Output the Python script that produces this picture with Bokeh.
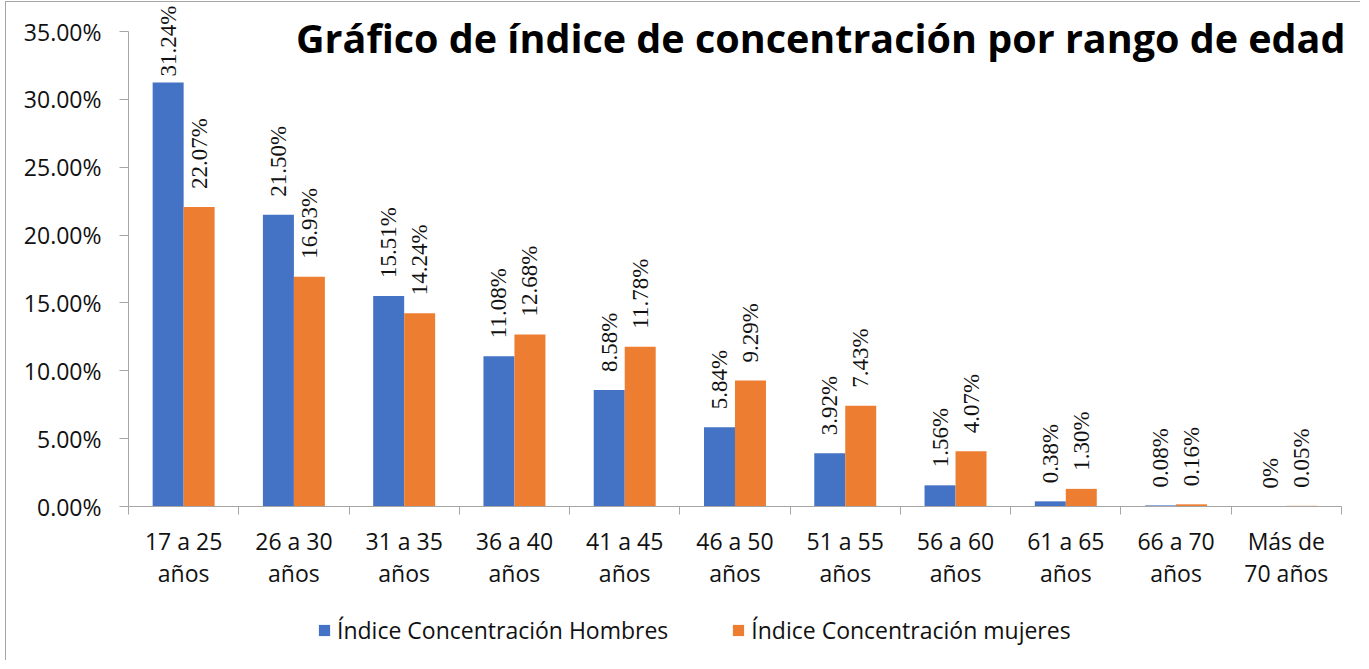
import math
from bokeh.plotting import figure
from bokeh.models import (ColumnDataSource, Range1d, FixedTicker, PrintfTickFormatter,
                          CustomJSTickFormatter, LabelSet, Label, Legend, LegendItem)
from bokeh.transform import dodge
from bokeh.embed import file_html
from bokeh.resources import INLINE

# ---- data ----
categories = ["17 a 25\naños", "26 a 30\naños", "31 a 35\naños", "36 a 40\naños",
              "41 a 45\naños", "46 a 50\naños", "51 a 55\naños", "56 a 60\naños",
              "61 a 65\naños", "66 a 70\naños", "Más de\n70 años"]
hombres = [31.24, 21.50, 15.51, 11.08, 8.58, 5.84, 3.92, 1.56, 0.38, 0.08, 0.0]
mujeres = [22.07, 16.93, 14.24, 12.68, 11.78, 9.29, 7.43, 4.07, 1.30, 0.16, 0.05]
y_ticks = [0, 5, 10, 15, 20, 25, 30, 35]
series_names = ["Índice Concentración Hombres", "Índice Concentración mujeres"]
title_text = "Gráfico de índice de concentración por rango de edad"

# ---- style / geometry ----
BLUE = "#4472C4"
ORANGE = "#ED7D31"
FONT = "Open Sans"
FS = "23px"
TXT = "#111111"
AXIS = "#a6a6a6"

n = len(categories)
Y_MAX = 35
W, H = 1355, 659
AXIS_X_PX = 122      # canvas x of the value axis
ZERO_Y_PX = 504      # canvas y of the 0% line
TOP_Y_PX = 29        # canvas y of the 35% line
CAT_PX = 110.27      # pixel width of one category
PX_PER_UNIT = (ZERO_Y_PX - TOP_Y_PX) / Y_MAX
BW = 0.281

def fmt(v):
    return "0%" if v == 0 else f"{v:.2f}%"

def label_offset(v, gap=18, length=78, headroom=21):
    top_px = (Y_MAX - v) * PX_PER_UNIT
    if top_px - gap - length < -headroom:
        return -(top_px + headroom - length)
    return gap

xs = [i + 0.5 for i in range(n)]
src = ColumnDataSource(dict(
    x=xs, h=hombres, m=mujeres,
    hl=[fmt(v) for v in hombres], ml=[fmt(v) for v in mujeres],
    ho=[label_offset(v) for v in hombres], mo=[label_offset(v) for v in mujeres],
))

x_range = Range1d(-AXIS_X_PX / CAT_PX, (W - AXIS_X_PX) / CAT_PX)
y_range = Range1d(-(H - ZERO_Y_PX) / PX_PER_UNIT, ZERO_Y_PX / PX_PER_UNIT)

p = figure(width=W, height=H, output_backend="svg", toolbar_location=None,
           x_range=x_range, y_range=y_range,
           min_border_left=0, min_border_right=0, min_border_top=0, min_border_bottom=0,
           styles={"border-left": "1px solid #a6a6a6", "border-top": "1px solid #a6a6a6",
                   "margin-left": "5px", "margin-top": "1px"})
p.outline_line_color = None
p.grid.visible = False
p.background_fill_color = "white"
p.border_fill_color = "white"

r1 = p.vbar(x=dodge("x", -BW / 2), top="h", width=BW, source=src, fill_color=BLUE, line_color=None)
r2 = p.vbar(x=dodge("x", BW / 2), top="m", width=BW, source=src, fill_color=ORANGE, line_color=None)

for col, lab, off, d in (("h", "hl", "ho", -BW / 2), ("m", "ml", "mo", BW / 2)):
    ls = LabelSet(x=dodge("x", d), y=col, text=lab, y_offset=off, source=src,
                  angle=math.pi / 2, text_align="left", text_baseline="middle",
                  text_font=FONT, text_font_size=FS, text_color=TXT)
    p.add_layout(ls)

xa = p.xaxis[0]
xa.fixed_location = 0
xa.bounds = (0, n)
xa.ticker = FixedTicker(ticks=xs, minor_ticks=list(range(n + 1)))
xa.formatter = CustomJSTickFormatter(args=dict(labels=categories),
                                     code="return labels[Math.floor(tick)]")
xa.major_tick_out = 0
xa.major_tick_in = 0
xa.minor_tick_out = 8
xa.minor_tick_in = 0
xa.minor_tick_line_color = AXIS
xa.axis_line_color = AXIS
xa.major_label_text_font = FONT
xa.major_label_text_font_size = FS
xa.major_label_text_color = TXT
xa.major_label_text_line_height = 1.03
xa.major_label_standoff = 10

ya = p.yaxis[0]
ya.fixed_location = 0
ya.bounds = (0, Y_MAX)
ya.ticker = FixedTicker(ticks=y_ticks)
ya.formatter = PrintfTickFormatter(format="%.2f%%")
ya.major_tick_out = 9
ya.major_tick_in = 0
ya.minor_tick_line_color = None
ya.major_tick_line_color = AXIS
ya.axis_line_color = AXIS
ya.major_label_text_font = FONT
ya.major_label_text_font_size = FS
ya.major_label_text_color = TXT
ya.major_label_standoff = 18

title = Label(x=n, y=Y_MAX - 6.5 / PX_PER_UNIT, x_offset=4, text=title_text, text_align="right",
              text_baseline="middle", text_font="Open Sans", text_font_style="bold",
              text_font_size="39.5px", text_color="#000000")
p.add_layout(title)

legend = Legend(items=[LegendItem(label=series_names[0], renderers=[r1]),
                       LegendItem(label=series_names[1], renderers=[r2])],
                orientation="horizontal", location=(311, 15),
                glyph_width=14, glyph_height=14, label_standoff=6, spacing=63,
                padding=0, margin=0, border_line_color=None, background_fill_alpha=0,
                label_text_font=FONT, label_text_font_size=FS, label_text_color=TXT)
p.add_layout(legend)

open("out.html", "w").write(file_html(p, INLINE))
